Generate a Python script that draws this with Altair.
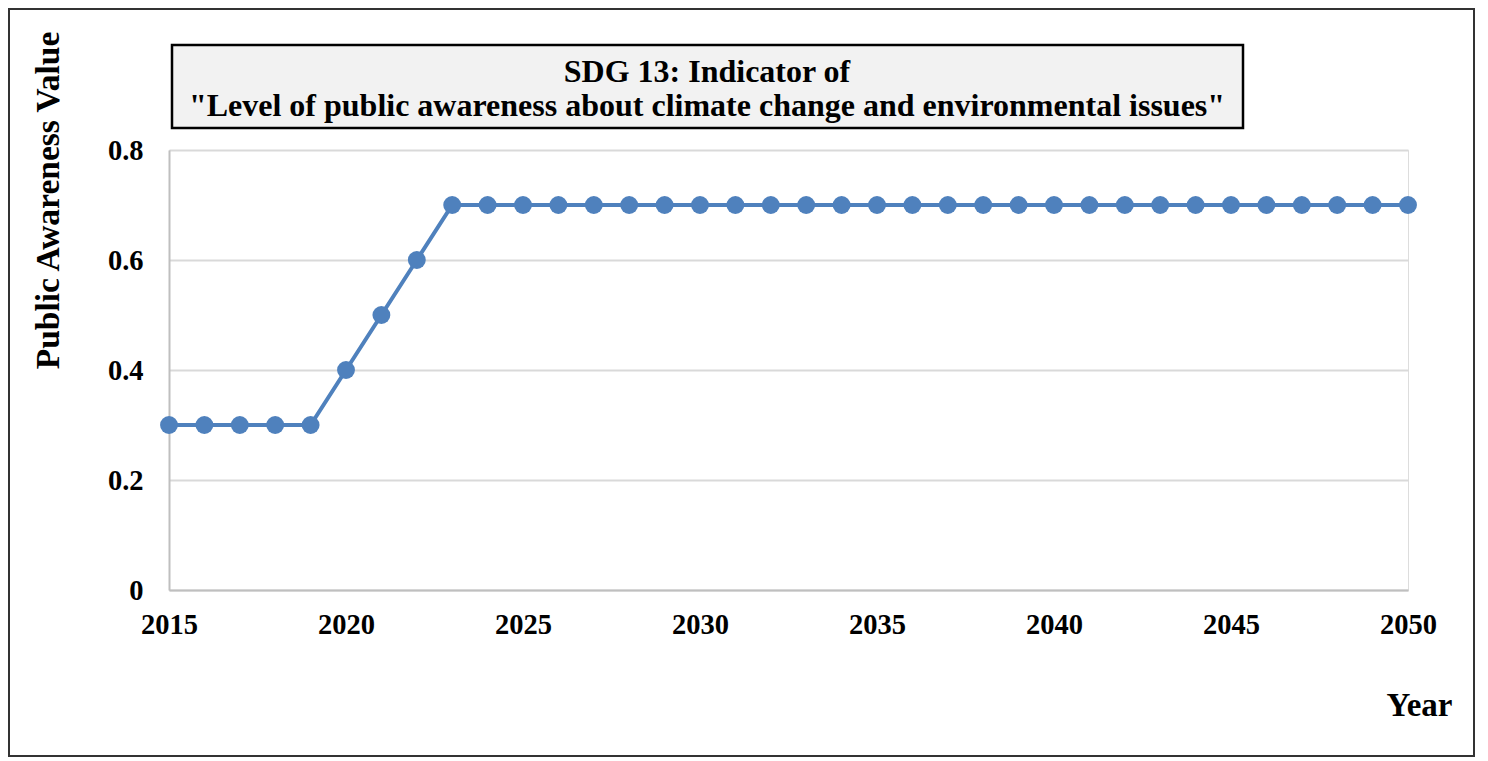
import altair as alt
import pandas as pd

years = list(range(2015, 2051))
values = [0.3, 0.3, 0.3, 0.3, 0.3, 0.4, 0.5, 0.6] + [0.7] * 28
title_lines = "SDG 13: Indicator of\n\"Level of public awareness about climate change and environmental issues\""
x_ticks = [2015, 2020, 2025, 2030, 2035, 2040, 2045, 2050]
y_ticks = [0, 0.2, 0.4, 0.6, 0.8]

df = pd.DataFrame({"Year": years, "Value": values})
one = pd.DataFrame({"t": [title_lines]})

FONT = "Liberation Serif"
BLUE = "#4f81bd"
W, H = 1239, 440

x = alt.X("Year:Q", scale=alt.Scale(domain=[2015, 2050], nice=False, zero=False),
          axis=alt.Axis(values=x_ticks, format="d", grid=False, ticks=False, labelFlush=False,
                        domainColor="#bfbfbf", domainWidth=2,
                        labelFont=FONT, labelFontWeight="bold", labelFontSize=28.5,
                        labelColor="black", labelPadding=20,
                        title="Year", titleFont=FONT, titleFontWeight="bold", titleFontSize=33,
                        titleColor="black", titleX=1283, titleY=115, titleAlign="right",
                        titleBaseline="middle", titleAnchor="end"))
y = alt.Y("Value:Q", scale=alt.Scale(domain=[0, 0.8], nice=False),
          axis=alt.Axis(values=y_ticks, grid=True, gridColor="#d9d9d9", gridWidth=2,
                        ticks=False, domainColor="#bfbfbf", domainWidth=2,
                        labelFont=FONT, labelFontWeight="bold", labelFontSize=28.5,
                        labelColor="black", labelPadding=26,
                        labelExpr="datum.value == 0 ? '0' : format(datum.value, '.1f')",
                        title="Public Awareness Value", titleFont=FONT, titleFontWeight="bold",
                        titleFontSize=33.5, titleColor="black", titleAngle=270,
                        titleX=-121, titleY=50, titleAlign="center", titleBaseline="middle"))

line = alt.Chart(df).mark_line(color=BLUE, strokeWidth=4).encode(x=x, y=y)
pts = alt.Chart(df).mark_point(filled=True, color=BLUE, size=320, opacity=1).encode(x=x, y=y)

border = alt.Chart(one).mark_rect(fill=None, stroke="#333333", strokeWidth=2).encode(
    x=alt.value(-160), x2=alt.value(1305), y=alt.value(-141), y2=alt.value(606))
tbox = alt.Chart(one).mark_rect(fill="#f2f2f2", stroke="black", strokeWidth=2.5).encode(
    x=alt.value(3), x2=alt.value(1074), y=alt.value(-105), y2=alt.value(-22))
ttext = alt.Chart(one).mark_text(font=FONT, fontWeight="bold", fontSize=32, color="black",
                                 lineBreak="\n", lineHeight=34, align="center",
                                 baseline="middle").encode(
    x=alt.value(538), y=alt.value(-78), text="t:N")

chart = alt.layer(border, tbox, ttext, line, pts).properties(
    width=W, height=H,
    autosize=alt.AutoSizeParams(type="none"),
    padding={"left": 161, "top": 142, "right": 67, "bottom": 167},
).configure_view(stroke=None).configure(background="white")

chart.save("out.html", embed_options={"renderer": "svg", "actions": False})
